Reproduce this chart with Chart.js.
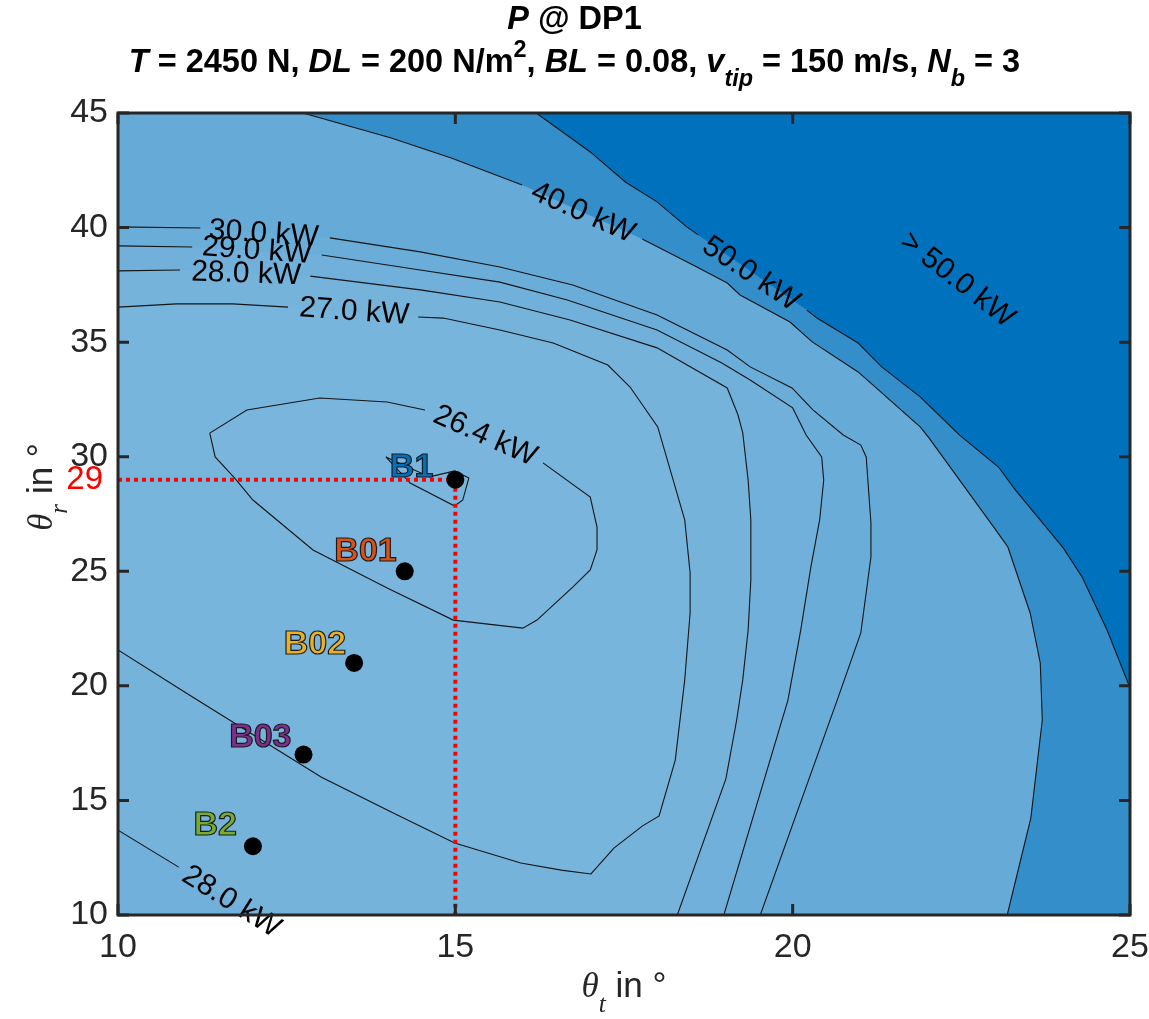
<!DOCTYPE html>
<html>
<head>
<meta charset="utf-8">
<script src="https://cdn.jsdelivr.net/npm/chart.js@4.4.0/dist/chart.umd.min.js"></script>
<style>
  html, body { margin: 0; padding: 0; background: #fff; }
  canvas { display: block; }
</style>
</head>
<body>
<canvas id="powerContour" width="1149" height="1019"></canvas>
<script>
// contour levels of the required power, kW
const levels = [26.4, 27, 28, 29, 30, 40, 50];

// contour paths as [theta_t, theta_r] in degrees; null breaks the line under its label
const p264 = [[11.36, 31.03], [11.91, 32.04], [12.99, 32.56], [13.99, 32.39], [14.55, 32.04], null,
  [16.30, 29.73], [17.00, 28.24], [17.10, 26.93], [17.10, 25.93], [17.00, 25.06], [16.74, 24.31],
  [16.21, 22.87], [16.00, 22.52], [14.97, 22.87], [13.99, 24.27], [12.89, 25.93], [12.00, 28.11],
  [11.73, 29.07], [11.44, 29.99], [11.36, 31.03]];
const pMin = [[13.97, 29.99], [14.62, 29.12], [14.99, 29.38], [15.20, 29.07], [15.11, 28.11],
  [14.99, 27.85], [14.33, 28.85], [13.97, 29.99]];
const p27 = [[10, 36.53], [10.87, 36.67], [11.70, 36.67], [12.52, 36.53], null, [14.45, 36.10],
  [14.82, 36.05], [15.66, 35.53], [16.45, 34.96], [17.26, 34.00], [17.59, 33.04], [18.00, 31.30],
  [18.40, 27.24], [18.48, 24.93], [18.48, 23.18], [18.40, 20.26], [18.26, 16.76], [18.02, 14.32],
  [17.77, 13.88], [17.35, 12.92], [17.01, 11.79], [16.57, 11.96], [15.97, 12.27], [14.99, 13.14],
  [14.08, 14.45], [13.01, 16.02], [11.01, 19.69], [10, 21.57]];
const p28a = [[10, 38.11], [10.92, 38.15], null, [12.85, 37.88], [14.48, 37.28], [15.66, 36.75],
  [16.70, 35.97], [17.99, 34.75], [19.03, 33.00], [19.19, 31.82], [19.26, 31.04], [19.34, 28.98],
  [19.38, 27.24], [19.38, 24.62], [19.34, 22.44], [19.26, 20.26], [19.17, 18.51], [19.01, 15.94],
  [18.29, 10]];
const p28b = [[10, 13.70], [10.90, 12.09], null, [12.02, 10]];
const p29 = [[10, 39.20], [11.10, 39.15], null, [13.02, 38.80], [14.48, 38.15], [15.66, 37.62],
  [16.66, 36.84], [17.99, 35.53], [18.95, 34.09], [19.37, 33.35], [20.00, 32.13], [20.20, 30.95],
  [20.43, 29.99], [20.46, 28.98], [20.40, 27.24], [20.27, 25.19], [20.12, 22.44], [19.93, 19.38],
  [18.98, 10]];
const p30 = [[10, 40.03], [11.22, 39.98], null, [13.14, 39.55], [14.48, 38.94], [15.66, 38.28],
  [16.74, 37.49], [17.99, 36.18], [19.03, 34.66], [19.37, 33.92], [19.99, 33.00], [20.30, 32.04],
  [20.75, 30.95], [21.01, 30.51], [21.09, 29.99], [21.16, 27.11], [21.16, 25.62], [21.01, 22.31],
  [20.66, 19.38], [19.52, 10]];
const p40 = [[12.74, 45], [14.05, 43.91], [14.94, 43.04], [15.99, 41.86], null, [17.77, 39.50],
  [18.58, 38.28], [19.03, 37.58], [19.22, 37.06], [19.96, 35.88], [20.29, 35.01], [20.97, 33.70],
  [21.89, 31.30], [22.02, 30.82], [22.98, 26.93], [23.19, 26.06], [23.52, 23.18], [23.67, 21.00],
  [23.70, 18.51], [23.53, 14.23], [23.18, 10]];
const p50 = [[16.20, 45], [17.00, 43.30], [17.52, 41.99], [17.99, 41.12], [18.43, 40.03],
  [18.60, 39.68], null, [20.21, 36.40], [20.36, 36.05], [20.97, 34.96], [21.32, 33.92],
  [21.89, 32.61], [22.47, 30.95], [23.05, 29.55], [23.30, 28.55], [24.01, 26.02], [24.29, 24.75],
  [24.66, 22.44], [25, 19.91]];

// inline contour labels: anchor [theta_t, theta_r] and text angle in degrees
const labelText = ['30.0 kW', '29.0 kW', '28.0 kW', '27.0 kW', '40.0 kW', '50.0 kW', '> 50.0 kW', '26.4 kW', '28.0 kW'];
const labelAt = [[12.16, 39.72], [12.06, 38.98], [11.90, 37.97], [13.50, 36.32], [16.89, 40.64],
  [19.38, 37.97], [22.44, 37.71], [15.44, 30.90], [11.68, 10.57]];
const labelRot = [4, 4, 2, 4, 24, 34, 38, 24, 32];

// blade design points
const designNames = ['B1', 'B01', 'B02', 'B03', 'B2'];
const designT = [15, 14.25, 13.5, 12.75, 12];
const designR = [29, 25, 21, 17, 13];
const designColors = ['#0072BD', '#D95319', '#EDB120', '#7E2F8E', '#77AC30'];

// selected design (dotted guide lines)
const selT = 15;
const selR = 29;

const xTicks = [10, 15, 20, 25];
const yTicks = [10, 15, 20, 25, 30, 35, 40, 45];
const xMin = 10, xMax = 25, yMin = 10, yMax = 45;

const family = '"Liberation Sans", Arial, Helvetica, sans-serif';
const axisColor = '#262626';
Chart.defaults.font.family = family;

// white -> MATLAB blue, scaled by power
const blue = [0, 114, 189];
function shade(v) {
  const t = Math.min(v / 50, 1);
  return 'rgb(' + blue.map(c => Math.round(255 - t * (255 - c))).join(',') + ')';
}

const solid = path => path.filter(Boolean);
const toXY = path => path.map(p => p ? { x: p[0], y: p[1] } : { x: null, y: null });

// filled bands, each coloured by the level just below it
const regions = [
  { v: levels[5], pts: [...solid(p50), [xMax, yMin], [xMin, yMin], [xMin, yMax]] },
  { v: levels[4], pts: [...solid(p40), [xMin, yMin], [xMin, yMax]] },
  { v: levels[3], pts: [...solid(p30), [xMin, yMin]] },
  { v: levels[2], pts: [...solid(p29), [xMin, yMin]] },
  { v: levels[1], pts: [...solid(p28a), ...solid(p28b).reverse()] },
  { v: levels[0], pts: solid(p27) },
  { v: 26.2, pts: solid(p264) },
  { v: 26.0, pts: pMin }
];

function richText(ctx, segs, cx, base, size, weight) {
  const parts = segs.map(s => {
    const small = s.sub || s.sup;
    const fs = small ? size * 0.72 : size;
    const font = (s.it ? 'italic ' : '') + weight + ' ' + fs + 'px ' + (s.fam || family);
    ctx.font = font;
    return { t: s.t, font, w: ctx.measureText(s.t).width, dy: s.sub ? size * 0.42 : s.sup ? -size * 0.45 : 0 };
  });
  let x = cx - parts.reduce((a, p) => a + p.w, 0) / 2;
  ctx.textAlign = 'left';
  ctx.textBaseline = 'alphabetic';
  parts.forEach(p => {
    ctx.font = p.font;
    ctx.fillText(p.t, x, base + p.dy);
    x += p.w;
  });
}

const bandFill = {
  id: 'bandFill',
  beforeDatasetsDraw(chart) {
    const { ctx, chartArea: a, scales: { x, y } } = chart;
    ctx.save();
    ctx.beginPath();
    ctx.rect(a.left, a.top, a.width, a.height);
    ctx.clip();
    ctx.fillStyle = shade(levels[6]);
    ctx.fillRect(a.left, a.top, a.width, a.height);
    regions.forEach(r => {
      ctx.beginPath();
      r.pts.forEach((p, i) => {
        const px = x.getPixelForValue(p[0]), py = y.getPixelForValue(p[1]);
        if (i === 0) ctx.moveTo(px, py); else ctx.lineTo(px, py);
      });
      ctx.closePath();
      ctx.fillStyle = shade(r.v);
      ctx.fill();
    });
    ctx.restore();
  }
};

const annotations = {
  id: 'annotations',
  afterDatasetsDraw(chart) {
    const { ctx, scales: { x, y } } = chart;
    ctx.save();
    // contour labels
    ctx.fillStyle = '#000';
    ctx.font = '30px ' + family;
    ctx.textAlign = 'center';
    ctx.textBaseline = 'middle';
    labelText.forEach((t, i) => {
      ctx.save();
      ctx.translate(x.getPixelForValue(labelAt[i][0]), y.getPixelForValue(labelAt[i][1]));
      ctx.rotate(labelRot[i] * Math.PI / 180);
      ctx.fillText(t, 0, 0);
      ctx.restore();
    });
    // design point names
    const offs = [[-22, -3], [-8, -10], [-8, -9], [-12, -8], [-16, -11]];
    ctx.font = 'bold 34px ' + family;
    ctx.textAlign = 'right';
    ctx.textBaseline = 'alphabetic';
    ctx.lineWidth = 1.2;
    ctx.strokeStyle = '#1a1a1a';
    designNames.forEach((n, i) => {
      const px = x.getPixelForValue(designT[i]) + offs[i][0];
      const py = y.getPixelForValue(designR[i]) + offs[i][1];
      ctx.fillStyle = designColors[i];
      ctx.fillText(n, px, py);
      ctx.strokeText(n, px, py);
    });
    ctx.restore();
  },
  afterDraw(chart) {
    const { ctx, chartArea: a, scales: { x, y } } = chart;
    ctx.save();
    // axes box with inward ticks on all sides
    ctx.strokeStyle = axisColor;
    ctx.lineWidth = 3;
    ctx.strokeRect(a.left, a.top, a.width, a.height);
    ctx.beginPath();
    xTicks.forEach(v => {
      const px = x.getPixelForValue(v);
      ctx.moveTo(px, a.bottom); ctx.lineTo(px, a.bottom - 11);
      ctx.moveTo(px, a.top); ctx.lineTo(px, a.top + 11);
    });
    yTicks.forEach(v => {
      const py = y.getPixelForValue(v);
      ctx.moveTo(a.left, py); ctx.lineTo(a.left + 11, py);
      ctx.moveTo(a.right, py); ctx.lineTo(a.right - 11, py);
    });
    ctx.stroke();

    // selected theta_r value on the y axis
    ctx.fillStyle = '#FF0000';
    ctx.font = '33px ' + family;
    ctx.textAlign = 'right';
    ctx.textBaseline = 'middle';
    ctx.fillText(String(selR), a.left - 15, y.getPixelForValue(selR));

    // title
    ctx.fillStyle = '#000';
    const cx = chart.width / 2;
    richText(ctx, [{ t: 'P', it: true }, { t: ' @ DP1' }], cx, 29, 32.5, 'bold');
    richText(ctx, [
      { t: 'T', it: true }, { t: ' = 2450 N, ' }, { t: 'DL', it: true }, { t: ' = 200 N/m' },
      { t: '2', sup: true }, { t: ', ' }, { t: 'BL', it: true }, { t: ' = 0.08, ' },
      { t: 'v', it: true }, { t: 'tip', it: true, sub: true }, { t: ' = 150 m/s, ' },
      { t: 'N', it: true }, { t: 'b', it: true, sub: true }, { t: ' = 3' }
    ], cx, 72, 32.5, 'bold');

    // axis titles
    ctx.fillStyle = axisColor;
    const serif = '"Liberation Serif", "DejaVu Serif", serif';
    richText(ctx, [{ t: 'θ', it: true, fam: serif }, { t: 't', it: true, sub: true, fam: serif }, { t: ' in °' }],
      (a.left + a.right) / 2, 997, 35, 'normal');
    ctx.translate(52, 487);
    ctx.rotate(-Math.PI / 2);
    richText(ctx, [{ t: 'θ', it: true, fam: serif }, { t: 'r', it: true, sub: true, fam: serif }, { t: ' in °' }],
      0, 0, 35, 'normal');
    ctx.restore();
  }
};

const contourSets = [p264, pMin, p27, p28a, p28b, p29, p30, p40, p50].map(path => ({
  data: toXY(path),
  showLine: true,
  spanGaps: false,
  pointRadius: 0,
  borderColor: '#151515',
  borderWidth: 1.1,
  order: 3
}));

new Chart(document.getElementById('powerContour'), {
  type: 'scatter',
  data: {
    datasets: [
      ...contourSets,
      {
        data: [{ x: xMin, y: selR }, { x: selT, y: selR }],
        showLine: true, pointRadius: 0, borderColor: '#FF0000', borderWidth: 4, borderDash: [4, 4], order: 1
      },
      {
        data: [{ x: selT, y: selR }, { x: selT, y: yMin }],
        showLine: true, pointRadius: 0, borderColor: '#FF0000', borderWidth: 4, borderDash: [4, 4], order: 1
      },
      {
        data: designT.map((t, i) => ({ x: t, y: designR[i] })),
        pointRadius: 9, pointBackgroundColor: '#000', pointBorderWidth: 0, order: 0
      }
    ]
  },
  options: {
    responsive: false,
    animation: false,
    events: [],
    layout: { padding: { top: 113, right: 19, left: 0, bottom: 0 } },
    plugins: { legend: { display: false }, tooltip: { enabled: false } },
    scales: {
      x: {
        type: 'linear', min: xMin, max: xMax,
        afterBuildTicks: s => { s.ticks = xTicks.map(v => ({ value: v })); },
        afterFit: s => { s.height = 104; s.paddingLeft = 0; s.paddingRight = 0; },
        grid: { display: false, drawTicks: false },
        border: { display: false },
        ticks: { color: axisColor, font: { size: 34 }, padding: 12, maxRotation: 0 }
      },
      y: {
        type: 'linear', min: yMin, max: yMax,
        afterBuildTicks: s => { s.ticks = yTicks.map(v => ({ value: v })); },
        afterFit: s => { s.width = 118; s.paddingTop = 0; s.paddingBottom = 0; },
        grid: { display: false, drawTicks: false },
        border: { display: false },
        ticks: { color: axisColor, font: { size: 34 }, padding: 10 }
      }
    }
  },
  plugins: [bandFill, annotations]
});
</script>
</body>
</html>
